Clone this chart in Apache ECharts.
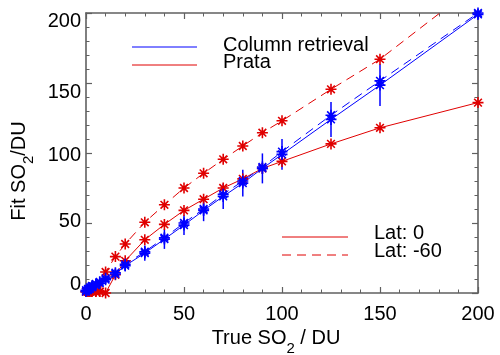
<!DOCTYPE html>
<html><head><meta charset="utf-8">
<script src="https://cdn.jsdelivr.net/npm/echarts@6/dist/echarts.min.js"></script>
<style>html,body{margin:0;padding:0;background:#fff}#c{width:500px;height:355px}</style>
</head><body><div id="c"></div>
<script>
// True SO2 (DU)
const xTrue = [0, 1, 2, 3, 5, 7, 10, 15, 20, 30, 40, 50, 60, 70, 80, 90, 100, 125, 150, 200];
// Column retrieval fits
const colLat0  = [1, 2, 3, 4, 5.5, 7, 9.5, 13.6, 19.5, 28.5, 38.5, 48.5, 59, 69, 78.5, 89, 99, 124, 148.5, 199];
const colLat60 = [2, 3, 4, 5, 6.5, 8, 10.5, 14.5, 20.5, 29.5, 39.5, 50, 60, 70.5, 80, 90, 101, 127, 151.5, 200];
const colErr   = [1, 1, 1, 1.5, 2, 2, 2.5, 3, 4, 5.5, 7, 7, 7.7, 9, 9.5, 10.7, 11, 12.5, 15, 0];
// Prata fits
const prataLat0  = [1, 1, 1, 1, 1, 1, 0, 13, 23, 38, 49, 59, 67, 75, 81.5, 89, 94, 106.5, 118, 136];
const prataLat60 = [1, 1, 1, 1, 1, 1, 15, 26, 35, 50.5, 63, 75, 85.5, 95.5, 105, 114.5, 123, 145.5, 167, 221];
const axisMin = 0, axisMax = 200, axisStep = 50;

const FONT = 'Liberation Sans, Arial, sans-serif';
const BLUE = '#0000ff', RED = '#e00000', AX = '#606060';
const STAR = 'path://M0,5L10,5M5,0L5,10M1.5,1.5L8.5,8.5M1.5,8.5L8.5,1.5';

const pairs = ys => xTrue.map((x, i) => [x, ys[i]]);
function lineSeries(ys, color, dashed) {
  return {
    type: 'line', data: pairs(ys), xAxisIndex: 0, yAxisIndex: 0,
    symbol: STAR, symbolSize: 11, clip: true, silent: true,
    itemStyle: { color: color, borderColor: color, borderWidth: 1.6 },
    lineStyle: { color: color, width: 1, type: dashed ? [9, 6] : 'solid' },
    emphasis: { disabled: true }
  };
}
const rich = {
  n: { fontSize: 20, fontFamily: FONT, color: '#000', verticalAlign: 'bottom', padding: [0, 0, 7, 0] },
  s: { fontSize: 15, fontFamily: FONT, color: '#000', verticalAlign: 'bottom' }
};
// y tick label vertical nudges (label styling, as in the original plot)
const yLabelRich = {
  p200: { padding: [16, 0, 0, 0] }, p150: { padding: [18, 0, 0, 0] },
  p100: { padding: [4, 0, 0, 0] },  p50:  { padding: [0, 0, 4, 0] },
  p0:   { padding: [0, 0, 18, 0] }
};
Object.keys(yLabelRich).forEach(k => Object.assign(yLabelRich[k], { fontSize: 20, fontFamily: FONT, color: '#000' }));
const baseAxis = {
  type: 'value', min: axisMin, max: axisMax, interval: axisStep,
  axisLine: { show: true, onZero: false, lineStyle: { color: AX, width: 1.6 } },
  axisTick: { show: true, inside: true, length: 6, lineStyle: { color: AX, width: 1.2 } },
  minorTick: { show: true, splitNumber: 5, length: 3.5, lineStyle: { color: AX, width: 1 } },
  splitLine: { show: false }, minorSplitLine: { show: false }
};
const chart = echarts.init(document.getElementById('c'), null, { renderer: 'canvas' });
chart.setOption({
  animation: false,
  backgroundColor: '#fff',
  grid: { left: 86, right: 22, top: 13, bottom: 62, containLabel: false, outerBoundsMode: 'none' },
  xAxis: [
    Object.assign({}, baseAxis, {
      position: 'bottom',
      axisLabel: { fontSize: 20, fontFamily: FONT, color: '#000', margin: 11 },
      name: '{n|True SO}{s|2}{n| / DU}', nameLocation: 'middle', nameGap: 33,
      nameTextStyle: { rich: rich, padding: [0, 12, 0, 0] }
    }),
    Object.assign({}, baseAxis, { position: 'top', axisLabel: { show: false } })
  ],
  yAxis: [
    Object.assign({}, baseAxis, {
      position: 'left',
      axisLabel: { fontSize: 20, fontFamily: FONT, color: '#000', margin: 5,
                   formatter: v => '{p' + v + '|' + v + '}', rich: yLabelRich },
      name: '{n|Fit SO}{s|2}{n|/DU}', nameLocation: 'middle', nameGap: 50,
      nameTextStyle: { rich: rich, padding: [0, 36, 0, 0] }
    }),
    Object.assign({}, baseAxis, { position: 'right', axisLabel: { show: false } })
  ],
  series: [
    {
      type: 'custom', xAxisIndex: 0, yAxisIndex: 0, clip: true, silent: true,
      data: xTrue.map((x, i) => [x, colLat0[i], colErr[i]]),
      encode: { x: 0, y: 1 },
      renderItem: function (params, api) {
        const x = api.value(0), y = api.value(1), e = api.value(2);
        const p1 = api.coord([x, y - e]), p2 = api.coord([x, y + e]);
        return { type: 'line', shape: { x1: p1[0], y1: p1[1], x2: p2[0], y2: p2[1] },
                 style: { stroke: BLUE, lineWidth: 1.5 } };
      }
    },
    lineSeries(prataLat0, RED, false),
    lineSeries(prataLat60, RED, true),
    lineSeries(colLat60, BLUE, true),
    lineSeries(colLat0, BLUE, false)
  ],
  graphic: [
    { type: 'line', shape: { x1: 132, y1: 47, x2: 197, y2: 47 }, style: { stroke: BLUE, lineWidth: 1 } },
    { type: 'line', shape: { x1: 132, y1: 65, x2: 197, y2: 65 }, style: { stroke: RED, lineWidth: 1 } },
    { type: 'text', left: 223, top: 35, style: { text: 'Column retrieval', font: '20px ' + FONT, fill: '#000' } },
    { type: 'text', left: 223, top: 52, style: { text: 'Prata', font: '20px ' + FONT, fill: '#000' } },
    { type: 'line', shape: { x1: 282, y1: 237, x2: 348, y2: 237 }, style: { stroke: RED, lineWidth: 1 } },
    { type: 'line', shape: { x1: 282, y1: 255, x2: 348, y2: 255 }, style: { stroke: RED, lineWidth: 1, lineDash: [9, 6] } },
    { type: 'text', left: 374, top: 223, style: { text: 'Lat: 0', font: '20px ' + FONT, fill: '#000' } },
    { type: 'text', left: 374, top: 241, style: { text: 'Lat: -60', font: '20px ' + FONT, fill: '#000' } }
  ]
});
</script>
</body></html>
